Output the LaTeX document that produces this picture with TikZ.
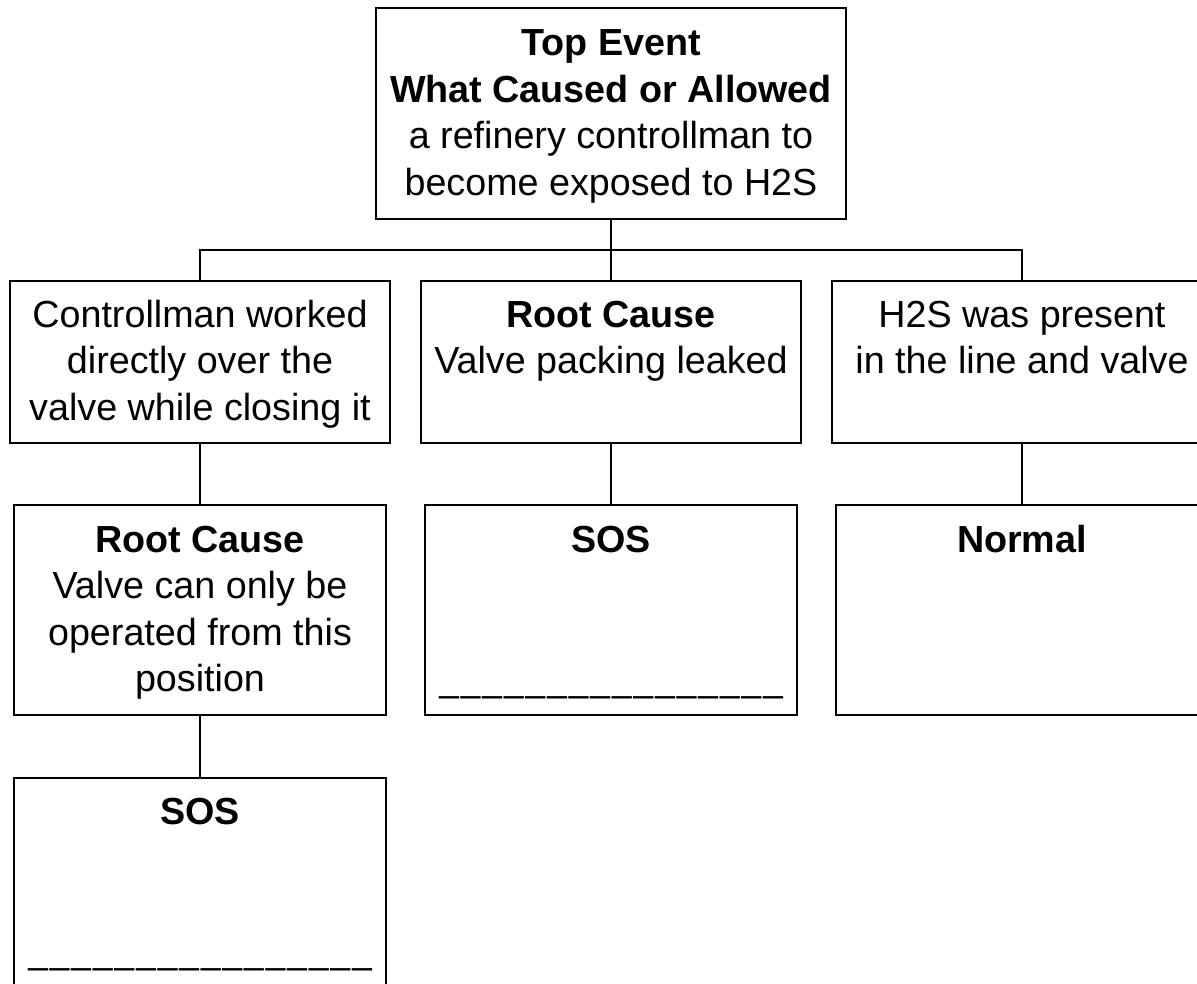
\documentclass[tikz,border=0pt]{standalone}
\usepackage{fontspec}
\setmainfont{Liberation Sans}
\usetikzlibrary{positioning, calc}

% text set from the top of a box of fixed size
\newcommand{\boxtext}[4]{\parbox[c][#2][t]{#1}{\centering\rule{0pt}{#3}#4}}
% one underscore of the blank line, with a small gap
\newcommand{\gapbar}{\makebox[21.6pt]{\scalebox{0.93}[1]{\_}}}
\newcommand{\blankline}{\foreach \i in {1,...,16}{\gapbar}}

\begin{document}
\begin{tikzpicture}[
    x=1pt, y=1pt,
    event/.style={rectangle, draw=black, line width=2.2pt, inner sep=0pt, outer sep=0pt, font=\fontsize{37.7pt}{46.5pt}\selectfont},
    link/.style={line width=2.2pt}
]
\useasboundingbox (0,0) rectangle (1197,-984);
\clip (0,0) rectangle (1197,-984);

% Top event
\node[event] (top) at (611,-113.5) {\boxtext{470pt}{211pt}{48pt}{\textbf{Top Event}\\\textbf{What Caused or Allowed}\\a refinery controllman to\\become exposed to H2S}};

% First level
\node[event, below=62pt of top] (mid2) {\boxtext{380pt}{162pt}{46pt}{\textbf{Root Cause}\\Valve packing leaked}};
\node[event, left=31pt of mid2] (left2) {\boxtext{380pt}{162pt}{46pt}{Controllman worked\\directly over the\\valve while closing it}};
\node[event, right=31pt of mid2] (right2) {\boxtext{380pt}{162pt}{46pt}{H2S was present\\in the line and valve}};

% Second level
\node[event, below=62pt of left2] (left3) {\boxtext{372pt}{210pt}{47pt}{\textbf{Root Cause}\\Valve can only be\\operated from this\\position}};
\node[event, below=62pt of mid2] (mid3) {\boxtext{372pt}{210pt}{47pt}{\textbf{SOS}\\[2\baselineskip]\blankline}};
\node[event, below=62pt of right2] (right3) {\boxtext{372pt}{210pt}{47pt}{\textbf{Normal}}};

% Third level
\node[event, below=63pt of left3] (left4) {\boxtext{372pt}{210pt}{46pt}{\textbf{SOS}\\[2\baselineskip]\blankline}};

% Connectors
\coordinate (bus) at ($(top.south)!0.5!(mid2.north)$);
\draw[link] (top.south) -- (mid2.north);
\draw[link] (left2.north) |- (bus) -| (right2.north);
\draw[link] (left2) -- (left3);
\draw[link] (mid2) -- (mid3);
\draw[link] (right2) -- (right3);
\draw[link] (left3) -- (left4);

\end{tikzpicture}
\end{document}
